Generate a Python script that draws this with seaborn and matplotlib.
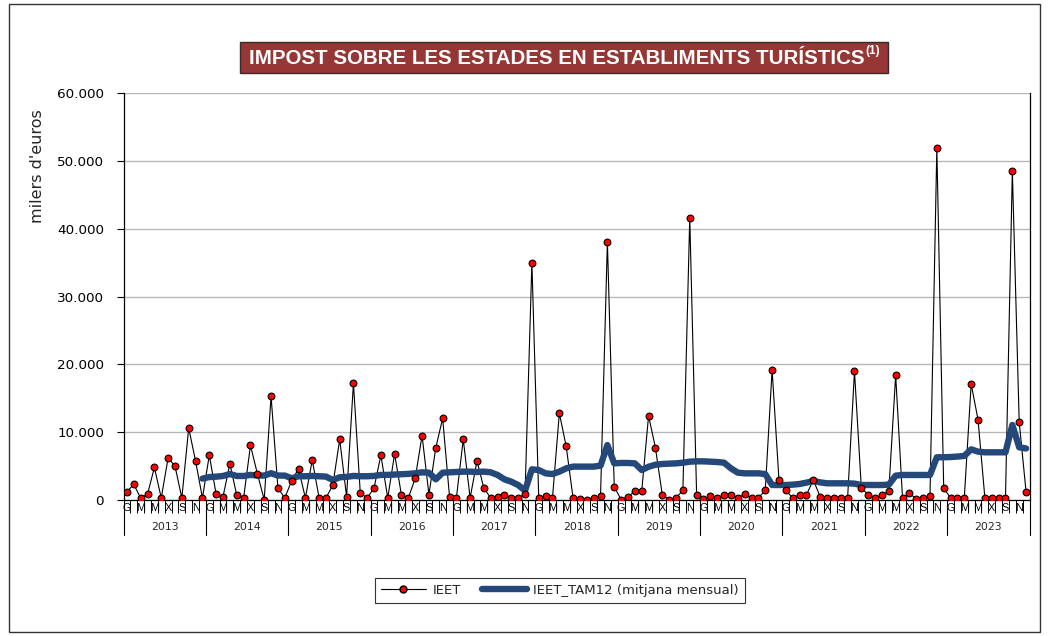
import matplotlib
matplotlib.use("Agg")
import matplotlib.pyplot as plt
import seaborn as sns
import pandas as pd
from matplotlib.lines import Line2D
from matplotlib.patches import Rectangle
from matplotlib import font_manager as fm
from matplotlib.ticker import FuncFormatter, FixedLocator

# ---------------- data (milers d'euros) ----------------
years = [str(y) for y in range(2013, 2024)]
month_letters = ["G", "", "M", "", "M", "", "X", "", "S", "", "N", ""]

ieet = [
    1220, 2300, 300, 850, 4800, 300, 6200, 5000, 300, 10600, 5750, 300,      # 2013
    6600, 850, 500, 5350, 700, 300, 8050, 3900, 50, 15300, 1770, 300,        # 2014
    2850, 4600, 300, 5900, 300, 300, 2200, 8950, 500, 17200, 1030, 300,      # 2015
    1770, 6600, 300, 6800, 700, 300, 3200, 9500, 800, 7700, 12050, 500,      # 2016
    300, 8950, 300, 5750, 1770, 300, 500, 750, 300, 300, 850, 35000,         # 2017
    300, 550, 300, 12800, 7900, 300, 100, 50, 300, 550, 38100, 1970,         # 2018
    50, 500, 1280, 1280, 12400, 7700, 750, 50, 300, 1430, 41600, 800,        # 2019
    150, 550, 300, 750, 750, 300, 850, 300, 300, 1430, 19200, 2900,          # 2020
    1430, 300, 750, 750, 2950, 500, 300, 300, 300, 300, 19000, 1770,         # 2021
    800, 300, 750, 1280, 18400, 300, 1000, 150, 300, 550, 51900, 1770,       # 2022
    300, 300, 300, 17100, 11850, 300, 300, 300, 300, 48500, 11500, 1200,     # 2023
]

# IEET_TAM12 (mitjana mensual), from Dec 2013 onwards
tam12 = [
    3150,                                                                    # Dec 2013
    3380, 3440, 3540, 3830, 3540, 3540, 3700, 3600, 3600, 3950, 3600, 3600,  # 2014
    3200, 3500, 3500, 3550, 3500, 3450, 2950, 3350, 3400, 3550, 3500, 3500,  # 2015
    3550, 3700, 3700, 3750, 3800, 3850, 3930, 4080, 4030, 3050, 4030, 4080,  # 2016
    4130, 4180, 4180, 4130, 4180, 4080, 3690, 3050, 2700, 2210, 1380, 4520,  # 2017
    4420, 3930, 3830, 4180, 4670, 4920, 4920, 4920, 4920, 5060, 8100, 5400,  # 2018
    5460, 5460, 5400, 4420, 4900, 5200, 5310, 5360, 5400, 5500, 5650, 5700,  # 2019
    5700, 5650, 5600, 5500, 4670, 4030, 3930, 3930, 3930, 3830, 2210, 2210,  # 2020
    2210, 2260, 2360, 2560, 2800, 2600, 2460, 2460, 2460, 2460, 2410, 2210,  # 2021
    2210, 2210, 2210, 2260, 3590, 3690, 3690, 3690, 3690, 3690, 6300, 6300,  # 2022
    6340, 6400, 6500, 7470, 7130, 7030, 7030, 7030, 7030, 11060, 7770, 7600, # 2023
]

n = len(ieet)
df = pd.DataFrame({"idx": range(n), "IEET": ieet})
df_tam = pd.DataFrame({"idx": range(n - len(tam12), n), "TAM": tam12})

# ---------------- fonts ----------------
names = {f.name for f in fm.fontManager.ttflist}
narrow = "Liberation Sans Narrow" if "Liberation Sans Narrow" in names else "Liberation Sans"

sns.set_style("white")
plt.rcParams["font.family"] = ["DejaVu Sans"]

W, H = 1048, 636
fig = plt.figure(figsize=(W / 100, H / 100), dpi=100)
fig.patch.set_facecolor("white")

# outer frame
fig.add_artist(Rectangle((9 / W, 4 / H), (1040 - 9) / W, (632 - 4) / H,
                         transform=fig.transFigure, fill=False,
                         edgecolor="#333333", lw=1.0))

ax = fig.add_axes([123.5 / W, (H - 500) / H, (1029.5 - 123.5) / W, (500 - 93) / H])
ax.set_facecolor("white")

blue = "#24487a"
sns.lineplot(data=df, x="idx", y="IEET", ax=ax, color="black", lw=0.8,
             zorder=2, legend=False)
sns.lineplot(data=df_tam, x="idx", y="TAM", ax=ax, color=blue, lw=4.6,
             zorder=3, legend=False, solid_capstyle="round", solid_joinstyle="round")
sns.scatterplot(data=df, x="idx", y="IEET", ax=ax, color="#ff0000",
                edgecolor="black", linewidth=0.8, s=24, zorder=4, legend=False)

ax.set_xlim(-0.5, n - 0.5)
ax.set_ylim(0, 60000)
ax.set_xlabel("")
ax.set_ylabel("")

# y axis
ax.yaxis.set_major_locator(FixedLocator(range(0, 60001, 10000)))
ax.yaxis.set_major_formatter(FuncFormatter(lambda v, p: f"{int(v):,}".replace(",", ".")))
ax.tick_params(axis="y", direction="out", length=5, width=0.8, pad=9,
               labelsize=9.7, colors="black", left=True)
ax.grid(axis="y", color="#b8b8b8", lw=1.0)
ax.grid(axis="x", visible=False)
ax.set_axisbelow(True)

for s in ["left", "bottom", "right"]:
    ax.spines[s].set_visible(True)
    ax.spines[s].set_color("black")
    ax.spines[s].set_linewidth(0.9)
ax.spines["top"].set_visible(False)

# x axis: month letters + boundary ticks
ax.set_xticks(range(n))
ax.set_xticklabels([month_letters[i % 12] for i in range(n)],
                   fontsize=7.8, family=narrow)
ax.tick_params(axis="x", which="major", length=0, pad=2.5, colors="black")
ax.set_xticks([i - 0.5 for i in range(n + 1)], minor=True)
ax.tick_params(axis="x", which="minor", direction="out", length=9.4, width=0.7,
               color="black", bottom=True)

trans = ax.get_xaxis_transform()
for k in range(len(years) + 1):
    ax.plot([12 * k - 0.5, 12 * k - 0.5], [0, -35 / 407], transform=trans,
            color="black", lw=0.8, clip_on=False)
for k, y in enumerate(years):
    ax.text(12 * k + 5.5, -27 / 407, y, transform=trans, ha="center", va="center",
            fontsize=7.8)

# y label
fig.text(37 / W, 1 - 166 / H, "milers d'euros", rotation=90, ha="center",
         va="center", fontsize=11.5)

# title box
fig.add_artist(Rectangle((240 / W, (H - 73) / H), 648 / W, 31 / H,
                         transform=fig.transFigure, facecolor="#953735",
                         edgecolor="#3a2a2a", lw=1.0))
t = fig.text(557 / W, 1 - 58 / H, "IMPOST SOBRE LES ESTADES EN ESTABLIMENTS TURÍSTICS",
             ha="center", va="center", color="white", fontsize=14.8,
             fontweight="bold", family=narrow)
fig.canvas.draw()
bb = t.get_window_extent()
fig.text((bb.x1 + 1) / W, 1 - 51 / H, "(1)", ha="left", va="center",
         color="white", fontsize=8.5, fontweight="bold", family=narrow)

# legend
h1 = Line2D([], [], color="black", lw=0.8, marker="o", markerfacecolor="#ff0000",
            markeredgecolor="black", markersize=5)
h2 = Line2D([], [], color=blue, lw=4.6, solid_capstyle="round")
leg = fig.legend([h1, h2], ["IEET", "IEET_TAM12 (mitjana mensual)"],
                 loc="center", bbox_to_anchor=(560 / W, 1 - 590.5 / H), ncol=2,
                 frameon=True, fancybox=False, fontsize=9.5, handlelength=3.4,
                 columnspacing=1.6, handletextpad=0.5, borderpad=0.45,
                 borderaxespad=0.0)
leg.get_frame().set_edgecolor("black")
leg.get_frame().set_linewidth(0.8)
leg._legend_box.sep = 4

fig.savefig("out.png", dpi=100)
